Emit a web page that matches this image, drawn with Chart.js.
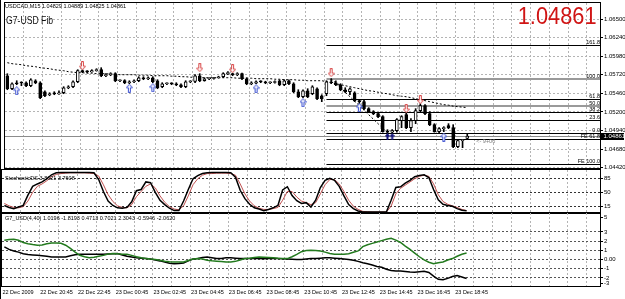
<!DOCTYPE html>
<html>
<head>
<meta charset="utf-8">
<title>USDCAD,M15 - G7-USD Fib</title>
<script src="https://cdn.jsdelivr.net/npm/chart.js@4.4.1/dist/chart.umd.min.js"></script>
<style>
  html, body { margin: 0; padding: 0; background: #fff; }
  #wrap { position: relative; width: 625px; height: 299px; overflow: hidden; }
  #wrap canvas { position: absolute; left: 0; }
  .edge { position: absolute; left: 0; top: 0; width: 1px; height: 299px; background: #000; }
  .big { position: absolute; font-family: "Liberation Sans", Arial, sans-serif; white-space: nowrap; line-height: 1; }
</style>
</head>
<body>
<div id="wrap">
  <canvas id="cMain" width="625" height="180" style="top:-4px"></canvas>
  <canvas id="cStoch" width="625" height="57" style="top:163px"></canvas>
  <canvas id="cG7" width="625" height="93" style="top:206px"></canvas>
  <div class="edge"></div>
  <div class="big" style="left:6px;top:15.7px;font-size:10.2px;color:#111;transform:scaleX(0.85);transform-origin:left top">G7-USD Fib</div>
  <div class="big" id="last" style="right:28px;top:4.1px;font-size:24.5px;color:#d01515;transform:scaleX(0.89);transform-origin:right top"></div>
</div>
<script>
// USDCAD M15 with G7-USD fib, StochasticDS and G7_USD panes, MT4 style.
const FONT = '"Liberation Sans", Arial, sans-serif';
const GRID = '#b4b4b4';

// ---- data ----
const symbol = 'USDCAD,M15';
const timeTicks = ['22 Dec 2009', '22 Dec 20:45', '22 Dec 22:45', '23 Dec 00:45', '23 Dec 02:45', '23 Dec 04:45',
  '23 Dec 06:45', '23 Dec 08:45', '23 Dec 10:45', '23 Dec 12:45', '23 Dec 14:45', '23 Dec 16:45', '23 Dec 18:45'];
const priceTicks = [1.04420, 1.04680, 1.04940, 1.05200, 1.05460, 1.05720, 1.05980, 1.06240, 1.06500];

const opens = [1.05707,1.05525,1.05609,1.05609,1.05609,1.05567,1.05637,1.05609,1.05483,1.05441,
  1.05455,1.05452,1.05469,1.05539,1.05553,1.05623,1.05777,1.05763,1.05760,1.05777,
  1.05791,1.05707,1.05721,1.05735,1.05637,1.05640,1.05609,1.05623,1.05637,1.05679,
  1.05665,1.05679,1.05637,1.05553,1.05595,1.05598,1.05592,1.05581,1.05553,1.05623,
  1.05626,1.05707,1.05637,1.05665,1.05668,1.05679,1.05693,1.05735,1.05735,1.05721,
  1.05735,1.05665,1.05595,1.05602,1.05623,1.05620,1.05609,1.05612,1.05637,1.05581,
  1.05637,1.05595,1.05483,1.05413,1.05497,1.05455,1.05525,1.05427,1.05455,1.05623,
  1.05609,1.05581,1.05511,1.05483,1.05469,1.05358,1.05344,1.05246,1.05204,1.05176,
  1.05134,1.04924,1.04917,1.04938,1.05078,1.05162,1.04980,1.05078,1.05218,1.05288,
  1.05176,1.05022,1.04924,1.04966,1.05008,1.04980,1.04714,1.04798,1.04829];
const highs = [1.05735,1.05609,1.05637,1.05623,1.05623,1.05665,1.05651,1.05623,1.05497,1.05469,
  1.05483,1.05497,1.05553,1.05567,1.05637,1.05791,1.05791,1.05777,1.05791,1.05805,
  1.05819,1.05735,1.05749,1.05749,1.05651,1.05651,1.05637,1.05651,1.05693,1.05693,
  1.05693,1.05693,1.05651,1.05609,1.05609,1.05609,1.05609,1.05595,1.05637,1.05637,
  1.05721,1.05735,1.05679,1.05679,1.05686,1.05700,1.05749,1.05763,1.05742,1.05749,
  1.05742,1.05679,1.05623,1.05637,1.05637,1.05630,1.05623,1.05637,1.05651,1.05651,
  1.05651,1.05609,1.05511,1.05511,1.05525,1.05567,1.05539,1.05441,1.05637,1.05665,
  1.05637,1.05595,1.05539,1.05539,1.05483,1.05372,1.05372,1.05260,1.05218,1.05190,
  1.05148,1.04952,1.04952,1.05106,1.05148,1.05190,1.05106,1.05246,1.05316,1.05302,
  1.05204,1.05036,1.04980,1.04994,1.05036,1.05022,1.04812,1.04812,1.04889];
const lows = [1.05511,1.05511,1.05581,1.05567,1.05553,1.05553,1.05595,1.05386,1.05413,1.05427,
  1.05441,1.05445,1.05455,1.05525,1.05539,1.05609,1.05749,1.05749,1.05755,1.05770,
  1.05693,1.05693,1.05707,1.05623,1.05623,1.05595,1.05595,1.05609,1.05623,1.05651,
  1.05651,1.05609,1.05525,1.05539,1.05581,1.05581,1.05567,1.05539,1.05539,1.05609,
  1.05609,1.05623,1.05630,1.05651,1.05658,1.05672,1.05679,1.05721,1.05707,1.05707,
  1.05651,1.05581,1.05581,1.05595,1.05609,1.05595,1.05595,1.05602,1.05567,1.05567,
  1.05581,1.05469,1.05400,1.05400,1.05400,1.05441,1.05372,1.05344,1.05427,1.05595,
  1.05567,1.05497,1.05469,1.05441,1.05344,1.05316,1.05232,1.05190,1.05162,1.05120,
  1.04917,1.04910,1.04910,1.04917,1.04980,1.04966,1.04924,1.05036,1.05204,1.05162,
  1.05008,1.04917,1.04903,1.04924,1.04966,1.04700,1.04700,1.04700,1.04825];
const closes = [1.05525,1.05595,1.05595,1.05605,1.05567,1.05651,1.05609,1.05400,1.05427,1.05455,
  1.05452,1.05469,1.05539,1.05553,1.05623,1.05777,1.05763,1.05760,1.05777,1.05791,
  1.05707,1.05721,1.05735,1.05637,1.05640,1.05609,1.05623,1.05637,1.05679,1.05665,
  1.05679,1.05623,1.05539,1.05595,1.05598,1.05592,1.05581,1.05553,1.05623,1.05626,
  1.05707,1.05637,1.05665,1.05668,1.05679,1.05693,1.05735,1.05749,1.05721,1.05735,
  1.05665,1.05595,1.05602,1.05623,1.05620,1.05609,1.05612,1.05623,1.05581,1.05637,
  1.05595,1.05483,1.05413,1.05497,1.05413,1.05553,1.05386,1.05386,1.05623,1.05609,
  1.05581,1.05511,1.05483,1.05525,1.05358,1.05344,1.05246,1.05204,1.05176,1.05134,
  1.04924,1.04917,1.04938,1.05092,1.05134,1.04980,1.05078,1.05218,1.05288,1.05176,
  1.05022,1.04924,1.04966,1.04980,1.04980,1.04714,1.04798,1.04805,1.04861];
const maPrices = [1.05889,1.05875,1.05868,1.05861,1.05847,1.05840,1.05833,1.05819,1.05812,1.05805,
  1.05791,1.05784,1.05777,1.05763,1.05756,1.05749,1.05749,1.05742,1.05742,1.05735,
  1.05735,1.05735,1.05728,1.05728,1.05721,1.05721,1.05721,1.05721,1.05714,1.05714,
  1.05714,1.05707,1.05707,1.05707,1.05707,1.05700,1.05700,1.05693,1.05693,1.05686,
  1.05686,1.05679,1.05679,1.05679,1.05679,1.05679,1.05679,1.05679,1.05679,1.05672,
  1.05672,1.05672,1.05672,1.05665,1.05665,1.05665,1.05665,1.05658,1.05658,1.05651,
  1.05651,1.05651,1.05644,1.05644,1.05637,1.05637,1.05637,1.05637,1.05623,1.05609,
  1.05595,1.05581,1.05567,1.05553,1.05539,1.05525,1.05511,1.05497,1.05490,1.05476,
  1.05462,1.05455,1.05441,1.05427,1.05420,1.05413,1.05400,1.05386,1.05372,1.05358,
  1.05344,1.05330,1.05316,1.05302,1.05295,1.05281,1.05274,1.05267,1.05260];

const redArrowBars = [16, 41, 48, 69, 85, 88];
const redArrowPrices = [1.05847, 1.05819, 1.05805, 1.05749, 1.05246, 1.05372];
const blueArrowBars = [2, 26, 31, 53, 63, 75, 93];
const blueArrowPrices = [1.05497, 1.05532, 1.05539, 1.05525, 1.05330, 1.05260, 1.04847];
const navyArrowBars = [81, 82];
const navyArrowPrices = [1.04854, 1.04854];

const fibNames = ['161.8', '100.0', '61.8', '50.0', '38.2', '23.6', '0.0', 'FE 61.8', 'FE 100.0'];
const fibPrices = [1.06132, 1.05665, 1.05377, 1.05288, 1.05194, 1.05088, 1.04910, 1.04820, 1.04477];
const fibAnchorBar = 68, fibHighBar = 69, fibLowBar = 81;

const stochTitle = 'StochasticDS 3.8621 3.7608';
const stochMain = [17,12,9,13,17,43,65,71,76,84, 94,99,100,100,100,100,100,100,100,99,
  82,52,28,17,11,10,12,26,54,57, 76,74,50,30,19,10,4,4,28,57,
  84,92,97,99,100,100,100,100,99,88, 55,34,20,11,8,4,7,11,17,56,
  64,42,29,22,24,13,30,62,80,85, 80,65,41,19,9,3,0.5,0.3,0.3,0.3,
  0.3,0.3,30,62,64,73,80,89,92,94, 87,57,31,20,17,15,9,5,3.86];
const stochSignal = [22,16,12,11,14,28,50,65,71,79, 89,95,97,98,99,99,99,99,98,97,
  91,69,44,27,16,12,11,19,39,52, 65,71,61,41,25,14,8,6,16,41,
  69,84,93,97,97,98,98,98,97,93, 71,46,28,16,10,7,7,9,12,30,
  52,52,38,28,24,19,24,46,69,82, 82,71,52,30,15,7,2,1.2,0.5,0.5,
  0.5,0.5,15,46,60,68,76,84,90,93, 90,71,44,27,20,16,12,7,3.76];
const stochLevels = [15, 50, 85];

const g7Title = 'G7_USD(4,40) 1.0196 -1.8193 0.4713 0.7021 2.3043 -0.5946 -2.0620';
const g7Green = [2.10,2.18,2.20,2.10,1.85,1.72,1.62,1.56,1.58,1.70,
  1.80,1.80,1.76,1.55,1.20,0.80,0.46,0.30,0.20,0.25,
  0.35,0.45,0.60,0.65,0.62,0.58,0.57,0.45,0.30,0.20,
  0.12,0.05,0.00,-0.08,-0.18,-0.25,-0.27,-0.28,-0.26,-0.10,
  0.05,0.10,0.05,-0.08,-0.14,-0.18,-0.22,-0.26,-0.27,-0.20,
  -0.05,0.10,0.15,0.22,0.27,0.25,0.22,0.20,0.15,0.12,
  0.10,0.30,0.55,0.85,0.97,1.00,0.97,0.93,0.80,0.65,
  0.57,0.57,0.57,0.62,0.78,0.93,1.40,1.60,1.75,1.90,
  2.05,2.20,2.30,2.10,1.85,1.45,1.10,0.70,0.30,-0.05,
  -0.30,-0.45,-0.35,-0.27,-0.05,0.10,0.35,0.57,0.70];
const g7Black = [1.37,1.10,0.93,0.80,0.62,0.55,0.50,0.46,0.42,0.35,
  0.28,0.27,0.26,0.27,0.40,0.52,0.57,0.57,0.57,0.57,
  0.57,0.57,0.60,0.63,0.65,0.50,0.35,0.27,0.20,0.15,
  0.10,0.05,-0.05,-0.15,-0.28,-0.40,-0.45,-0.44,-0.38,-0.15,
  0.05,0.12,0.22,0.27,0.18,0.10,0.12,0.18,0.20,0.15,
  0.10,0.10,0.10,0.10,0.10,0.08,0.10,0.10,0.10,0.08,
  0.05,0.02,0.00,0.00,0.05,0.10,0.12,0.15,0.18,0.20,
  0.15,0.10,0.05,0.00,-0.09,-0.20,-0.35,-0.45,-0.60,-0.75,
  -0.85,-1.05,-1.19,-1.24,-1.26,-1.30,-1.35,-1.37,-1.33,-1.28,
  -1.40,-1.80,-2.15,-2.20,-2.05,-1.85,-1.74,-1.90,-2.06];
const g7TickValues = [4.6, 3, 2, 1, 0, -1, -2, -2.6];
const g7TickLabels = ['5', '3', '2', '1', '0.00', '-1', '-2', '-3'];
const g7Levels = [3, 2, 1, 0, -1, -2];

// ---- helpers ----
const N_SLOTS = 127;              // bar slots incl. empty space on the right
const slotLabels = Array.from({ length: N_SLOTS }, (_, i) => String(i));
const last = closes.length - 1;
document.getElementById('last').textContent = closes[last].toFixed(5);

const pointsAt = (bars, prices) => {
  const out = closes.map(() => null);
  bars.forEach((b, k) => { out[b] = prices[k]; });
  return out;
};

function arrowImg(up, stroke, fill, w, h) {
  const c = document.createElement('canvas');
  c.width = w; c.height = h;
  const g = c.getContext('2d');
  if (up) { g.translate(0, h); g.scale(1, -1); }
  const sw = Math.max(2, Math.round(w * 0.43)), sx = (w - sw) / 2, hy = Math.round(h * 0.5);
  g.beginPath();
  g.moveTo(sx + 0.5, 0.5); g.lineTo(sx + sw - 0.5, 0.5); g.lineTo(sx + sw - 0.5, hy);
  g.lineTo(w - 0.5, hy); g.lineTo(w / 2, h - 0.5); g.lineTo(0.5, hy); g.lineTo(sx + 0.5, hy);
  g.closePath();
  g.fillStyle = fill; g.fill();
  g.strokeStyle = stroke; g.lineWidth = 1; g.stroke();
  return c;
}
const redArrow = arrowImg(false, '#d84848', '#fff', 7, 9);
const blueArrow = arrowImg(true, '#3a4fd0', '#fff', 7, 9);
const navyArrow = arrowImg(true, '#14147a', '#14147a', 5, 7);

function line(ctx, x1, y1, x2, y2) {
  ctx.beginPath(); ctx.moveTo(x1, y1); ctx.lineTo(x2, y2); ctx.stroke();
}

function xAxis(showLabels) {
  return {
    type: 'category', labels: slotLabels, offset: true,
    grid: { offset: true, drawTicks: false, color: (c) => (c.index > 0 && c.index % 4 === 0 ? GRID : 'rgba(0,0,0,0)') },
    border: { display: false, dash: [2, 2] },
    ticks: showLabels ? {
      autoSkip: false, maxRotation: 0, minRotation: 0, align: 'start', padding: 3, labelOffset: -1.9,
      font: { size: 5.5, family: FONT }, color: '#000',
      callback: (v, i) => (i % 8 === 0 && timeTicks[i / 8]) || '',
    } : { display: false },
    afterFit: (s) => { s.height = showLabels ? 12.5 : 0; },
  };
}

function yAxis(min, max, tickVals, fmt, gridColor) {
  return {
    position: 'right', min, max, beginAtZero: false,
    afterBuildTicks: (ax) => { ax.ticks = tickVals.map((v) => ({ value: v })); },
    afterFit: (ax) => { ax.width = 24; },
    grid: { color: gridColor, drawTicks: true, tickLength: 2, tickColor: '#000', tickWidth: 1 },
    border: { display: false, dash: [2, 2] },
    ticks: { autoSkip: false, padding: 1, font: { size: 6, family: FONT }, color: '#000', callback: fmt },
  };
}

const frame = (thickBottom) => ({
  id: 'frame',
  afterDraw(chart) {
    const { ctx, chartArea: a } = chart;
    const l = Math.round(a.left) - 0.5, t = Math.round(a.top) - 0.5;
    const r = Math.round(a.right) - 0.5, b = Math.round(a.bottom) - 0.5;
    ctx.save();
    ctx.strokeStyle = '#000'; ctx.lineWidth = 1;
    ctx.strokeRect(l, t, r - l, b - t);
    if (thickBottom) line(ctx, l, b + 1, r, b + 1);
    ctx.restore();
  },
});

const paneTitle = (text, dy) => ({
  id: 'paneTitle',
  afterDraw(chart) {
    const { ctx, chartArea: a } = chart;
    ctx.save();
    ctx.font = `5.5px ${FONT}`; ctx.fillStyle = '#000'; ctx.textBaseline = 'middle';
    ctx.fillText(text, 5, a.top + dy);
    ctx.restore();
  },
});

const mainOverlay = {
  id: 'mainOverlay',
  beforeDatasetsDraw(chart) {
    const { ctx, chartArea: a, scales: { x, y } } = chart;
    ctx.save();
    // bid line
    const by = Math.round(y.getPixelForValue(closes[last])) + 0.5;
    ctx.strokeStyle = '#8c8c8c'; ctx.lineWidth = 1;
    line(ctx, a.left, by, a.right, by);
    // fibo levels
    const x0 = x.getPixelForValue(fibAnchorBar);
    fibPrices.forEach((p, i) => {
      const grey = fibNames[i] === '100.0' || fibNames[i] === '50.0';
      const py = Math.round(y.getPixelForValue(p)) + (grey ? 0 : 0.5);
      ctx.strokeStyle = grey ? '#9a9a9a' : '#000';
      ctx.lineWidth = grey ? 2 : 1;
      line(ctx, x0, py, a.right, py);
    });
    // fibo base line
    ctx.setLineDash([2, 2]); ctx.strokeStyle = '#000'; ctx.lineWidth = 1;
    line(ctx, x.getPixelForValue(fibHighBar), y.getPixelForValue(fibPrices[1]),
      x.getPixelForValue(fibLowBar), y.getPixelForValue(fibPrices[6]));
    ctx.restore();
  },
  afterDraw(chart) {
    const { ctx, chartArea: a, scales: { x, y } } = chart;
    ctx.save();
    ctx.font = `5.5px ${FONT}`;
    // fibo labels
    ctx.fillStyle = '#000'; ctx.textAlign = 'right'; ctx.textBaseline = 'alphabetic';
    fibPrices.forEach((p, i) => ctx.fillText(fibNames[i], a.right - 1, Math.round(y.getPixelForValue(p)) - 1));
    // header
    ctx.textAlign = 'left'; ctx.textBaseline = 'middle';
    ctx.fillText(`${symbol} ${opens[last].toFixed(5)} ${highs[last].toFixed(5)} ${lows[last].toFixed(5)} ${closes[last].toFixed(5)}`, 5, a.top + 3.5);
    // countdown to bar close
    const cy = y.getPixelForValue(closes[last]);
    ctx.fillStyle = '#7a7a7a';
    ctx.fillText('<- 9+00', x.getPixelForValue(last) + 9, cy + 5);
    // current price box on the axis
    ctx.fillStyle = '#000';
    ctx.fillRect(a.right, Math.round(cy - 3.5), 23, 7);
    ctx.fillStyle = '#fff'; ctx.font = `6px ${FONT}`;
    ctx.fillText(closes[last].toFixed(5), a.right + 2.5, cy);
    ctx.restore();
  },
};

const base = {
  responsive: false, animation: false, events: [],
  plugins: { legend: { display: false }, tooltip: { enabled: false } },
};

// ---- price pane ----
new Chart(document.getElementById('cMain'), {
  type: 'bar',
  data: {
    labels: slotLabels,
    datasets: [
      { type: 'line', data: pointsAt(redArrowBars, redArrowPrices), showLine: false, pointStyle: redArrow, pointRadius: 4, order: 0 },
      { type: 'line', data: pointsAt(blueArrowBars, blueArrowPrices), showLine: false, pointStyle: blueArrow, pointRadius: 4, order: 0 },
      { type: 'line', data: pointsAt(navyArrowBars, navyArrowPrices), showLine: false, pointStyle: navyArrow, pointRadius: 3, order: 0 },
      {
        data: opens.map((o, i) => [o, closes[i]]),
        backgroundColor: opens.map((o, i) => (closes[i] >= o ? '#fff' : '#000')),
        borderColor: '#000', borderWidth: 1, borderSkipped: false,
        barThickness: 3, minBarLength: 1, grouped: false, order: 1,
      },
      { data: lows.map((l, i) => [l, highs[i]]), backgroundColor: '#000', barThickness: 1, grouped: false, order: 2 },
      { type: 'line', data: maPrices, borderColor: '#000', borderWidth: 1, borderDash: [2, 2], pointRadius: 0, order: 3 },
    ],
  },
  options: {
    ...base,
    layout: { padding: { left: 2, right: 0, top: 7, bottom: 7 } },
    scales: {
      x: xAxis(false),
      y: yAxis(1.04402, 1.06724, priceTicks, (v) => v.toFixed(5), GRID),
    },
  },
  plugins: [mainOverlay, frame(false)],
});

// ---- stochastic pane ----
new Chart(document.getElementById('cStoch'), {
  type: 'line',
  data: {
    labels: slotLabels,
    datasets: [
      { data: stochMain, borderColor: '#000', borderWidth: 1.5, pointRadius: 0, order: 0 },
      { data: stochSignal, borderColor: '#c05050', borderWidth: 1, pointRadius: 0, order: 1 },
    ],
  },
  options: {
    ...base,
    layout: { padding: { left: 2, right: 0, top: 7, bottom: 7 } },
    scales: {
      x: xAxis(false),
      y: yAxis(-2, 106, stochLevels, (v) => String(v), '#333'),
    },
  },
  plugins: [frame(true), paneTitle(stochTitle, 8.3)],
});

// ---- G7_USD pane ----
new Chart(document.getElementById('cG7'), {
  type: 'line',
  data: {
    labels: slotLabels,
    datasets: [
      { data: g7Green, borderColor: '#237a1e', borderWidth: 1.5, pointRadius: 0 },
      { data: g7Black, borderColor: '#000', borderWidth: 1.5, pointRadius: 0 },
    ],
  },
  options: {
    ...base,
    layout: { padding: { left: 2, right: 0, top: 7, bottom: 0 } },
    scales: {
      x: xAxis(true),
      y: yAxis(-2.93, 5.05, g7TickValues, (v, i) => g7TickLabels[i],
        (c) => (g7Levels.includes(c.tick.value) ? '#555' : 'rgba(0,0,0,0)')),
    },
  },
  plugins: [frame(false), paneTitle(g7Title, 5.3)],
});
</script>
</body>
</html>
